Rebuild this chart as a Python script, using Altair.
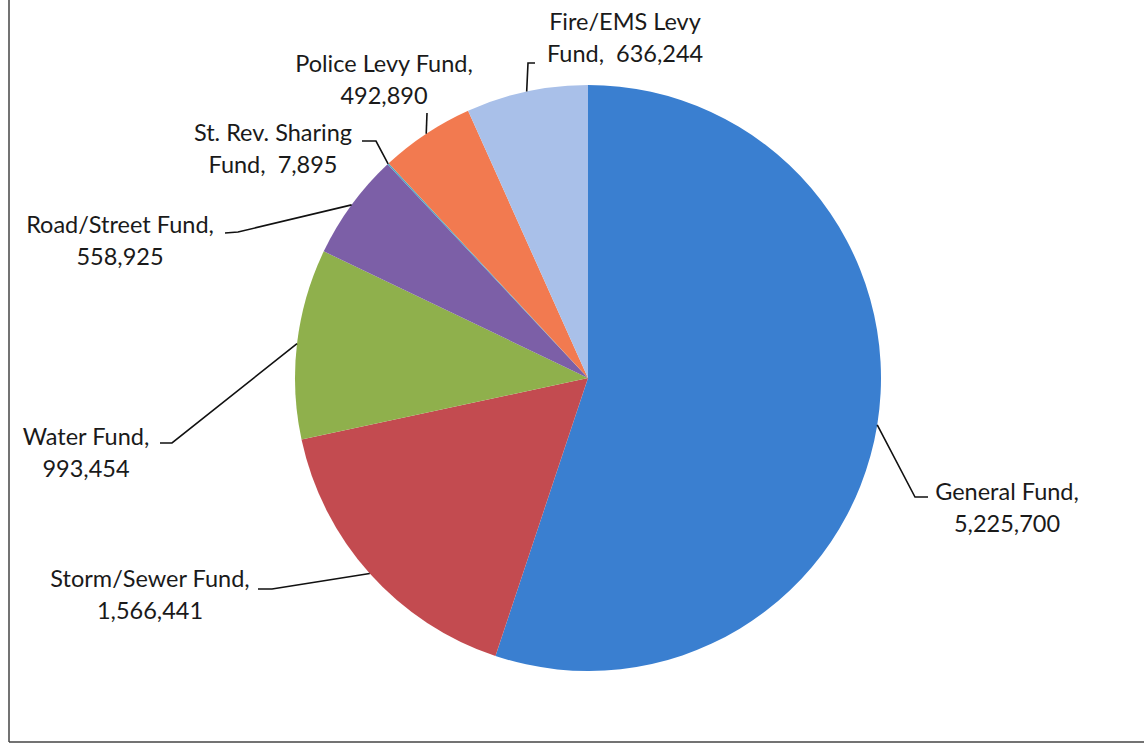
import math
import altair as alt
import pandas as pd

# ---- data ----
funds = ["General Fund", "Storm/Sewer Fund", "Water Fund", "Road/Street Fund",
         "St. Rev. Sharing Fund", "Police Levy Fund", "Fire/EMS Levy Fund"]
amounts = [5225700, 1566441, 993454, 558925, 7895, 492890, 636244]
colors = ["#3a7fd0", "#c34b50", "#8fb04c", "#7c5fa7", "#4aa8c4", "#f27a50", "#a9c0e9"]

# ---- layout (pixels) ----
W, H = 1144, 745
CX, CY, R = 588, 378, 293
words_on_first_line = [None, None, None, None, 3, None, 2]
label_pos = [(1007, 493), (150, 580), (86, 438), (120, 226), (273, 134), (384, 65), (625, 23)]
line_gap = 32
leader_knees = [
    [(928, 497), (915, 497)],
    [(258, 589), (272, 589)],
    [(160, 443), (172, 443)],
    [(225, 233), (238, 232)],
    [(362, 141), (376, 141)],
    [(427, 113)],
    [(535, 63), (528, 63)],
]
FONT = "Lato"
FSIZE = 23.5

# ---- tables ----
pie_df = pd.DataFrame({"fund": funds, "amount": amounts, "order": list(range(len(funds)))})

total = sum(amounts)
text_rows, line_rows = [], []
cum = 0
for i, (name, val) in enumerate(zip(funds, amounts)):
    mid = (cum + val / 2) / total * 2 * math.pi
    cum += val
    k = words_on_first_line[i]
    if k is None:
        l1, l2 = name + ",", f"{val:,}"
    else:
        w = name.split()
        l1 = " ".join(w[:k])
        l2 = " ".join(w[k:]) + ",\u00a0 " + f"{val:,}"
    lx, ly = label_pos[i]
    text_rows.append({"t": l1, "x": lx, "y": ly})
    text_rows.append({"t": l2, "x": lx, "y": ly + line_gap})
    pts = leader_knees[i] + [(CX + R * math.sin(mid), CY - R * math.cos(mid))]
    for j, (px, py) in enumerate(pts):
        line_rows.append({"fund": name, "idx": j, "x": px, "y": py})

text_df = pd.DataFrame(text_rows)
line_df = pd.DataFrame(line_rows)

xs = alt.Scale(domain=[0, W], nice=False, zero=False)
ys = alt.Scale(domain=[0, H], nice=False, zero=False, reverse=True)

pie = alt.Chart(pie_df).mark_arc(outerRadius=R).encode(
    theta=alt.Theta("amount:Q", stack=True),
    order=alt.Order("order:Q", sort="ascending"),
    color=alt.Color("fund:N", scale=alt.Scale(domain=funds, range=colors), legend=None),
    x=alt.value(CX),
    y=alt.value(CY),
)

leaders = alt.Chart(line_df).mark_line(color="#111111", strokeWidth=1.6).encode(
    x=alt.X("x:Q", scale=xs, axis=None),
    y=alt.Y("y:Q", scale=ys, axis=None),
    detail="fund:N",
    order="idx:Q",
)

labels = alt.Chart(text_df).mark_text(
    font=FONT, fontSize=FSIZE, color="#1a1a1a", align="center", baseline="middle"
).encode(
    x=alt.X("x:Q", scale=xs, axis=None),
    y=alt.Y("y:Q", scale=ys, axis=None),
    text="t:N",
)

frame_left = alt.Chart(pd.DataFrame({"a": [0]})).mark_rule(color="#444444", strokeWidth=1.5).encode(
    x=alt.value(9), y=alt.value(0), y2=alt.value(742)
)
frame_bottom = alt.Chart(pd.DataFrame({"a": [0]})).mark_rule(color="#444444", strokeWidth=1.5).encode(
    x=alt.value(9), x2=alt.value(W), y=alt.value(742)
)

chart = alt.layer(pie, leaders, labels, frame_left, frame_bottom).properties(
    width=W, height=H, padding=0, autosize=alt.AutoSizeParams(type="none"), background="white"
).configure_view(stroke=None)

chart.save("out.html", embed_options={"renderer": "svg", "actions": False})
